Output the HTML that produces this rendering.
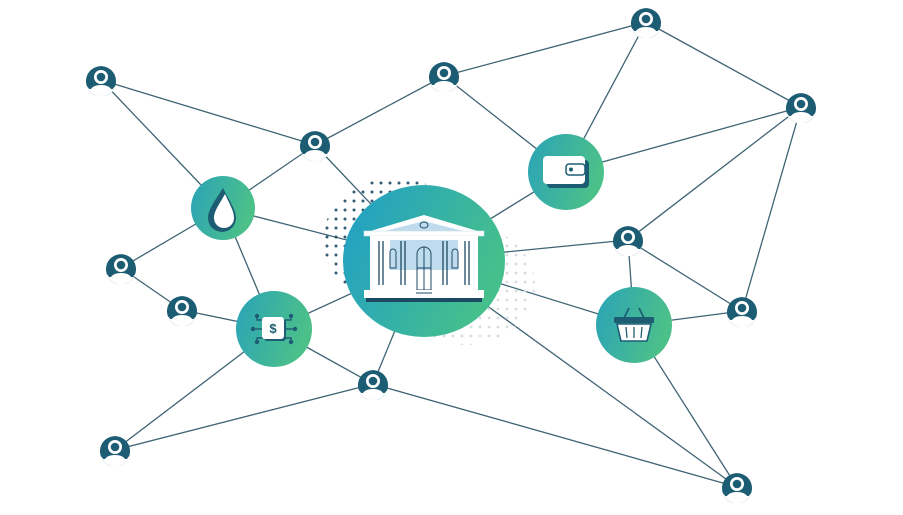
<!DOCTYPE html>
<html><head><style>html,body{margin:0;padding:0;background:#fff;}svg{display:block}</style></head>
<body>
<svg width="903" height="515" viewBox="0 0 903 515" xmlns="http://www.w3.org/2000/svg">
<defs>
<linearGradient id="g" x1="0" y1="0" x2="1" y2="0.3">
<stop offset="0" stop-color="#2aa3b8"/><stop offset="1" stop-color="#4cc089"/></linearGradient>
<linearGradient id="gb" x1="0" y1="0" x2="1" y2="0.4">
<stop offset="0" stop-color="#1f9ec9"/><stop offset="1" stop-color="#45bf8c"/></linearGradient>
<pattern id="dots" width="9" height="9" patternUnits="userSpaceOnUse"><circle cx="3" cy="3" r="1.5" fill="#1d4a63"/></pattern>
<pattern id="dots2" width="9" height="9" patternUnits="userSpaceOnUse"><circle cx="3" cy="3" r="1.4" fill="#d4dde2"/></pattern>
<symbol id="p" viewBox="-15 -15 30 30">
<path d="M-14.2 5 A15 15 0 1 1 14.2 5 L11 9 L-11 9 Z" fill="#1d5d74"/>
<circle cx="0" cy="-4" r="7" fill="#fff"/>
<circle cx="0" cy="-4" r="4.3" fill="#1d5d74"/>
<path d="M-11 10 Q-9 4 0 4 Q9 4 11 10 Z" fill="#fff"/>
<path d="M-13 8 A15 15 0 0 0 13 8" fill="#fff" stroke="#e4ecef" stroke-width="0.8"/>
</symbol>
</defs>
<g stroke="#3f6474" stroke-width="1.3" fill="none">
<line x1="101" y1="80" x2="315" y2="145"/><line x1="101" y1="80" x2="223" y2="208"/>
<line x1="315" y1="145" x2="444" y2="76"/><line x1="315" y1="145" x2="223" y2="208"/>
<line x1="315" y1="145" x2="424" y2="260"/>
<line x1="444" y1="76" x2="646" y2="22"/><line x1="444" y1="76" x2="566" y2="172"/>
<line x1="646" y1="22" x2="566" y2="172"/><line x1="646" y1="22" x2="801" y2="107"/>
<line x1="801" y1="107" x2="566" y2="172"/><line x1="801" y1="107" x2="628" y2="240"/>
<line x1="801" y1="107" x2="742" y2="311"/>
<line x1="223" y1="208" x2="121" y2="268"/><line x1="223" y1="208" x2="424" y2="260"/>
<line x1="223" y1="208" x2="274" y2="329"/>
<line x1="121" y1="268" x2="182" y2="310"/><line x1="182" y1="310" x2="274" y2="329"/>
<line x1="274" y1="329" x2="424" y2="260"/><line x1="274" y1="329" x2="373" y2="384"/>
<line x1="274" y1="329" x2="115" y2="450"/>
<line x1="373" y1="384" x2="424" y2="260"/><line x1="373" y1="384" x2="115" y2="450"/>
<line x1="373" y1="384" x2="737" y2="487"/>
<line x1="424" y1="260" x2="566" y2="172"/><line x1="424" y1="260" x2="628" y2="240"/>
<line x1="424" y1="260" x2="634" y2="325"/><line x1="424" y1="260" x2="737" y2="487"/>
<line x1="628" y1="240" x2="742" y2="311"/><line x1="628" y1="240" x2="634" y2="325"/>
<line x1="634" y1="325" x2="742" y2="311"/><line x1="634" y1="325" x2="737" y2="487"/>
</g>
<ellipse cx="395" cy="240" rx="72" ry="62" fill="url(#dots)" opacity="0.9"/>
<ellipse cx="465" cy="285" rx="70" ry="60" fill="url(#dots2)"/>
<ellipse cx="424" cy="261" rx="81" ry="76" fill="url(#gb)"/>
<g>
<polygon points="424,215 367,232 481,232" fill="#fff"/>
<polygon points="424,221 385,231 463,231" fill="#bfdcef"/>
<ellipse cx="424" cy="225" rx="4" ry="3" fill="none" stroke="#1d4a63" stroke-width="1"/>
<rect x="364" y="231" width="120" height="5" fill="#fff" stroke="#cfe0ea" stroke-width="0.6"/>
<rect x="370" y="236" width="108" height="54" fill="#fff"/>
<rect x="390" y="240" width="68" height="30" fill="#bfdcef"/>
<g stroke="#1d4a63" stroke-width="1.3">
<line x1="379" y1="241" x2="379" y2="285"/><line x1="383" y1="241" x2="383" y2="285"/>
<line x1="401" y1="241" x2="401" y2="285"/><line x1="405" y1="241" x2="405" y2="285"/>
<line x1="443" y1="241" x2="443" y2="285"/><line x1="447" y1="241" x2="447" y2="285"/>
<line x1="465" y1="241" x2="465" y2="285"/><line x1="469" y1="241" x2="469" y2="285"/>
</g>
<g fill="none" stroke="#1d4a63" stroke-width="1">
<path d="M390 268 V252 A3 3 0 0 1 396 252 V268 Z"/><path d="M452 268 V252 A3 3 0 0 1 458 252 V268 Z"/>
<path d="M417 268 V254 A7 7 0 0 1 431 254 V268 Z"/><line x1="424" y1="247" x2="424" y2="290"/>
<rect x="417" y="268" width="14" height="22"/>
</g>
<rect x="364" y="290" width="120" height="8" fill="#fff"/>
<rect x="366" y="298" width="116" height="4" fill="#1d4a63"/>
<line x1="416" y1="293" x2="432" y2="293" stroke="#1d4a63" stroke-width="1"/>
</g>
<circle cx="223" cy="208" r="32" fill="url(#g)"/>
<path d="M223 188 C214 202 208 210 208 218 A13 13 0 0 0 236 218 C236 210 230 202 223 188 Z" fill="#1d5d74"/>
<path d="M225 194 C219 205 214 211 214 218 A10 10 0 0 0 234 218 C234 211 230 205 225 194 Z" fill="#fff"/>
<circle cx="566" cy="172" r="38" fill="url(#g)"/>
<rect x="547" y="160" width="42" height="28" rx="4" fill="#1d5d74"/>
<rect x="543" y="156" width="42" height="28" rx="4" fill="#fff"/>
<rect x="566" y="164" width="19" height="11" rx="3" fill="none" stroke="#1d5d74" stroke-width="1.5"/>
<circle cx="571" cy="169.5" r="2" fill="#1d5d74"/>
<circle cx="274" cy="329" r="38" fill="url(#g)"/>
<g stroke="#1d5d74" stroke-width="1.4" fill="#1d5d74">
<path d="M263 320 H257 V316" fill="none"/><path d="M263 329 H253" fill="none"/><path d="M263 338 H257 V342" fill="none"/>
<path d="M285 320 H291 V316" fill="none"/><path d="M285 329 H295" fill="none"/><path d="M285 338 H291 V342" fill="none"/>
<circle cx="257" cy="316" r="1.5"/><circle cx="253" cy="329" r="1.5"/><circle cx="257" cy="342" r="1.5"/>
<circle cx="291" cy="316" r="1.5"/><circle cx="295" cy="329" r="1.5"/><circle cx="291" cy="342" r="1.5"/>
</g>
<rect x="264" y="319" width="22" height="22" rx="3" fill="#1d5d74"/>
<rect x="262" y="317" width="22" height="22" rx="3" fill="#fff"/>
<text x="273" y="333" font-family="Liberation Sans, sans-serif" font-size="13" font-weight="bold" fill="#1d5d74" text-anchor="middle">$</text>
<circle cx="634" cy="325" r="38" fill="url(#g)"/>
<path d="M624 318 L629 308 M644 318 L639 308" stroke="#1d5d74" stroke-width="1.8" fill="none"/>
<rect x="614" y="317" width="40" height="6" rx="1" fill="#1d5d74"/>
<path d="M617 324 L621 341 H647 L651 324 Z" fill="#fff" stroke="#1d5d74" stroke-width="1.6"/>
<g stroke="#1d5d74" stroke-width="1.3"><line x1="626" y1="327" x2="627" y2="338"/><line x1="634" y1="327" x2="634" y2="338"/><line x1="642" y1="327" x2="641" y2="338"/></g>
<use href="#p" x="86" y="66" width="30" height="30"/>
<use href="#p" x="429" y="62" width="30" height="30"/>
<use href="#p" x="631" y="8" width="30" height="30"/>
<use href="#p" x="786" y="93" width="30" height="30"/>
<use href="#p" x="300" y="131" width="30" height="30"/>
<use href="#p" x="106" y="254" width="30" height="30"/>
<use href="#p" x="167" y="296" width="30" height="30"/>
<use href="#p" x="613" y="226" width="30" height="30"/>
<use href="#p" x="727" y="297" width="30" height="30"/>
<use href="#p" x="358" y="370" width="30" height="30"/>
<use href="#p" x="100" y="436" width="30" height="30"/>
<use href="#p" x="722" y="473" width="30" height="30"/>
</svg>
</body></html>
